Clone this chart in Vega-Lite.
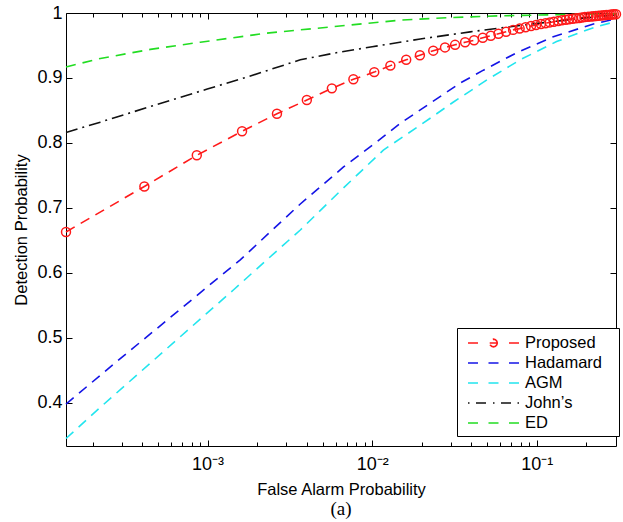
{
  "$schema": "https://vega.github.io/schema/vega-lite/v6.json",
  "width": 550,
  "height": 433,
  "autosize": {"type": "none"},
  "padding": {"left": 66, "top": 13, "right": 7, "bottom": 76},
  "background": "white",
  "config": {
    "view": {"stroke": "#000", "strokeWidth": 1},
    "font": "Liberation Sans",
    "axis": {"labelFont": "Liberation Sans", "titleFont": "Liberation Sans", "labelColor": "#000", "titleColor": "#000", "tickColor": "#000", "tickWidth": 1, "domain": false, "grid": false, "titleFontWeight": "normal", "labelFontSize": 18, "titleFontSize": 16.5}
  },
  "title": {"text": "(a)", "orient": "bottom", "font": "Liberation Serif", "fontSize": 19, "fontWeight": "normal", "color": "#000", "offset": 2},
  "datasets": {
    "d": [
      {"s":"Proposed","x":0.000138,"y":0.663},{"s":"Proposed","x":0.000413,"y":0.733},{"s":"Proposed","x":0.00086,"y":0.781},{"s":"Proposed","x":0.00162,"y":0.818},{"s":"Proposed","x":0.00264,"y":0.845},{"s":"Proposed","x":0.00401,"y":0.866},{"s":"Proposed","x":0.00569,"y":0.884},{"s":"Proposed","x":0.00769,"y":0.898},{"s":"Proposed","x":0.0103,"y":0.909},{"s":"Proposed","x":0.0129,"y":0.919},{"s":"Proposed","x":0.0161,"y":0.928},{"s":"Proposed","x":0.0195,"y":0.935},{"s":"Proposed","x":0.0235,"y":0.942},{"s":"Proposed","x":0.0277,"y":0.947},{"s":"Proposed","x":0.0319,"y":0.951},{"s":"Proposed","x":0.0367,"y":0.955},{"s":"Proposed","x":0.0416,"y":0.958},{"s":"Proposed","x":0.047,"y":0.962},{"s":"Proposed","x":0.0526,"y":0.965},{"s":"Proposed","x":0.0585,"y":0.968},{"s":"Proposed","x":0.0651,"y":0.971},{"s":"Proposed","x":0.0718,"y":0.974},{"s":"Proposed","x":0.0787,"y":0.976},{"s":"Proposed","x":0.0855,"y":0.978},{"s":"Proposed","x":0.0923,"y":0.98},{"s":"Proposed","x":0.099,"y":0.9815},{"s":"Proposed","x":0.106,"y":0.983},{"s":"Proposed","x":0.113,"y":0.9843},{"s":"Proposed","x":0.12,"y":0.9855},{"s":"Proposed","x":0.127,"y":0.9866},{"s":"Proposed","x":0.135,"y":0.9877},{"s":"Proposed","x":0.142,"y":0.9887},{"s":"Proposed","x":0.15,"y":0.9895},{"s":"Proposed","x":0.157,"y":0.9903},{"s":"Proposed","x":0.165,"y":0.9911},{"s":"Proposed","x":0.173,"y":0.9918},{"s":"Proposed","x":0.181,"y":0.9924},{"s":"Proposed","x":0.188,"y":0.9931},{"s":"Proposed","x":0.196,"y":0.9937},{"s":"Proposed","x":0.205,"y":0.9941},{"s":"Proposed","x":0.214,"y":0.9946},{"s":"Proposed","x":0.221,"y":0.9951},{"s":"Proposed","x":0.229,"y":0.9954},{"s":"Proposed","x":0.237,"y":0.9958},{"s":"Proposed","x":0.246,"y":0.9961},{"s":"Proposed","x":0.255,"y":0.9965},{"s":"Proposed","x":0.264,"y":0.9968},{"s":"Proposed","x":0.271,"y":0.9971},{"s":"Proposed","x":0.279,"y":0.9974},{"s":"Proposed","x":0.286,"y":0.9977},{"s":"Proposed","x":0.294,"y":0.998},{"s":"Proposed","x":0.303,"y":0.998},
      {"s":"Hadamard","x":0.000138,"y":0.398},{"s":"Hadamard","x":0.000282,"y":0.464},{"s":"Hadamard","x":0.000566,"y":0.527},{"s":"Hadamard","x":0.000992,"y":0.578},{"s":"Hadamard","x":0.00158,"y":0.62},{"s":"Hadamard","x":0.0024,"y":0.663},{"s":"Hadamard","x":0.00366,"y":0.706},{"s":"Hadamard","x":0.0067,"y":0.763},{"s":"Hadamard","x":0.0107,"y":0.802},{"s":"Hadamard","x":0.0148,"y":0.83},{"s":"Hadamard","x":0.0225,"y":0.861},{"s":"Hadamard","x":0.0342,"y":0.892},{"s":"Hadamard","x":0.0474,"y":0.912},{"s":"Hadamard","x":0.0757,"y":0.939},{"s":"Hadamard","x":0.126,"y":0.9635},{"s":"Hadamard","x":0.221,"y":0.983},{"s":"Hadamard","x":0.303,"y":0.991},
      {"s":"AGM","x":0.000138,"y":0.345},{"s":"AGM","x":0.000223,"y":0.393},{"s":"AGM","x":0.000449,"y":0.461},{"s":"AGM","x":0.000992,"y":0.538},{"s":"AGM","x":0.00144,"y":0.574},{"s":"AGM","x":0.00229,"y":0.62},{"s":"AGM","x":0.00366,"y":0.666},{"s":"AGM","x":0.0064,"y":0.726},{"s":"AGM","x":0.0117,"y":0.789},{"s":"AGM","x":0.0195,"y":0.827},{"s":"AGM","x":0.0312,"y":0.863},{"s":"AGM","x":0.0498,"y":0.897},{"s":"AGM","x":0.0793,"y":0.928},{"s":"AGM","x":0.132,"y":0.956},{"s":"AGM","x":0.183,"y":0.97},{"s":"AGM","x":0.231,"y":0.979},{"s":"AGM","x":0.303,"y":0.987},
      {"s":"John’s","x":0.000138,"y":0.816},{"s":"John’s","x":0.000223,"y":0.832},{"s":"John’s","x":0.000449,"y":0.856},{"s":"John’s","x":0.000996,"y":0.883},{"s":"John’s","x":0.00182,"y":0.903},{"s":"John’s","x":0.00366,"y":0.928},{"s":"John’s","x":0.0064,"y":0.94},{"s":"John’s","x":0.01,"y":0.948},{"s":"John’s","x":0.0196,"y":0.96},{"s":"John’s","x":0.0394,"y":0.971},{"s":"John’s","x":0.1005,"y":0.984},{"s":"John’s","x":0.183,"y":0.9915},{"s":"John’s","x":0.303,"y":0.997},
      {"s":"ED","x":0.000138,"y":0.917},{"s":"ED","x":0.000223,"y":0.93},{"s":"ED","x":0.000449,"y":0.944},{"s":"ED","x":0.000903,"y":0.955},{"s":"ED","x":0.00229,"y":0.969},{"s":"ED","x":0.00483,"y":0.977},{"s":"ED","x":0.00929,"y":0.984},{"s":"ED","x":0.0148,"y":0.989},{"s":"ED","x":0.0298,"y":0.993},{"s":"ED","x":0.0598,"y":0.9957},{"s":"ED","x":0.1205,"y":0.9972},{"s":"ED","x":0.303,"y":0.9988}
    ]
  },
  "data": {"name": "d"},
  "layer": [
    {
      "mark": {"type": "line", "strokeWidth": 1.6, "clip": false},
      "encoding": {
        "x": {"field": "x", "type": "quantitative", "scale": {"type": "log", "domain": [0.000138, 0.303], "nice": false},
          "axis": {"orient": "bottom", "values": [0.0002,0.0003,0.0004,0.0005,0.0006,0.0007,0.0008,0.0009,0.001,0.002,0.003,0.004,0.005,0.006,0.007,0.008,0.009,0.01,0.02,0.03,0.04,0.05,0.06,0.07,0.08,0.09,0.1,0.2],
            "labelExpr": "datum.value == 0.001 ? '10⁻³' : datum.value == 0.01 ? '10⁻²' : datum.value == 0.1 ? '10⁻¹' : ''",
            "labelOverlap": false, "labelBound": false, "labelFlush": false,
            "tickSize": {"condition": {"test": "datum.value == 0.001 || datum.value == 0.01 || datum.value == 0.1", "value": -6}, "value": -4},
            "labelPadding": 15, "title": "False Alarm Probability", "titlePadding": 6}},
        "y": {"field": "y", "type": "quantitative", "scale": {"domain": [0.3335, 1], "nice": false, "zero": false},
          "axis": {"orient": "left", "values": [0.4,0.5,0.6,0.7,0.8,0.9,1], "labelExpr": "datum.value == 1 ? '1' : format(datum.value, '.1f')", "tickSize": -6, "labelPadding": 10, "title": "Detection Probability", "titlePadding": 7}},
        "color": {"field": "s", "type": "nominal",
          "scale": {"domain": ["Proposed","Hadamard","AGM","John’s","ED"], "range": ["#ff1a1a","#1414e6","#22e5ee","#111111","#22dd22"]},
          "legend": {"orient": "none", "legendX": 391, "legendY": 315, "title": null, "strokeColor": "#000", "fillColor": "#fff", "padding": 4,
            "symbolSize": 400, "symbolStrokeWidth": 1.6, "symbolOffset": 6, "labelOffset": 36, "labelFontSize": 16.5, "labelFont": "Liberation Sans", "labelColor": "#000", "rowPadding": 0,
            "encode": {
              "labels": {"update": {"text": {"signal": "datum.label + '\u2800'"}}},
              "symbols": {"update": {
              "shape": {"signal": "datum.value === 'Proposed' ? 'M-1,0H0M1.17,0H1.93M1.93,0L1.879,0.19L1.74,0.329L1.55,0.38L1.36,0.329L1.221,0.19L1.17,0L1.221,-0.19L1.36,-0.329L1.55,-0.38L1.74,-0.329L1.879,-0.19ZM3.1,0H4.1' : datum.value[0] === 'J' ? 'M-1,0H-0.85M-0.2,0H0.8M1.5,0H1.65M2.3,0H3.3M3.95,0H4.1' : 'M-1,0H0M1.05,0H2.05M3.1,0H4.1'"},
              "strokeDash": {"value": []}, "fill": {"value": "transparent"}, "opacity": {"value": 1}, "strokeWidth": {"value": 1.6}}}}}},
        "strokeDash": {"field": "s", "type": "nominal", "scale": {"domain": ["Proposed","Hadamard","AGM","John’s","ED"], "range": [[10,7],[10,7],[10,7],[12,5,2,5],[10,7]]}, "legend": null}
      }
    },
    {
      "transform": [{"filter": "datum.s === 'Proposed'"}],
      "mark": {"type": "point", "shape": "circle", "filled": false, "size": 80, "strokeWidth": 1.5, "opacity": 1, "clip": false},
      "encoding": {
        "x": {"field": "x", "type": "quantitative",
          "axis": {"orient": "top", "values": [0.0002,0.0003,0.0004,0.0005,0.0006,0.0007,0.0008,0.0009,0.001,0.002,0.003,0.004,0.005,0.006,0.007,0.008,0.009,0.01,0.02,0.03,0.04,0.05,0.06,0.07,0.08,0.09,0.1,0.2],
            "labels": false, "title": null,
            "tickSize": {"condition": {"test": "datum.value == 0.001 || datum.value == 0.01 || datum.value == 0.1", "value": -6}, "value": -4}}},
        "y": {"field": "y", "type": "quantitative",
          "axis": {"orient": "right", "values": [0.4,0.5,0.6,0.7,0.8,0.9,1], "labels": false, "title": null, "tickSize": -6}},
        "color": {"field": "s", "type": "nominal",
          "legend": {"orient": "none", "legendX": 391, "legendY": 315, "title": null, "strokeColor": "#000", "fillColor": "#fff", "padding": 4,
            "symbolSize": 400, "symbolStrokeWidth": 1.6, "symbolOffset": 6, "labelOffset": 36, "labelFontSize": 16.5, "labelFont": "Liberation Sans", "labelColor": "#000", "rowPadding": 0,
            "encode": {
              "labels": {"update": {"text": {"signal": "datum.label + '\u2800'"}}},
              "symbols": {"update": {
              "shape": {"signal": "datum.value === 'Proposed' ? 'M-1,0H0M1.17,0H1.93M1.93,0L1.879,0.19L1.74,0.329L1.55,0.38L1.36,0.329L1.221,0.19L1.17,0L1.221,-0.19L1.36,-0.329L1.55,-0.38L1.74,-0.329L1.879,-0.19ZM3.1,0H4.1' : datum.value[0] === 'J' ? 'M-1,0H-0.85M-0.2,0H0.8M1.5,0H1.65M2.3,0H3.3M3.95,0H4.1' : 'M-1,0H0M1.05,0H2.05M3.1,0H4.1'"},
              "strokeDash": {"value": []}, "fill": {"value": "transparent"}, "opacity": {"value": 1}, "strokeWidth": {"value": 1.6}}}}}}
      }
    }
  ],
  "resolve": {"axis": {"x": "independent", "y": "independent"}}
}
